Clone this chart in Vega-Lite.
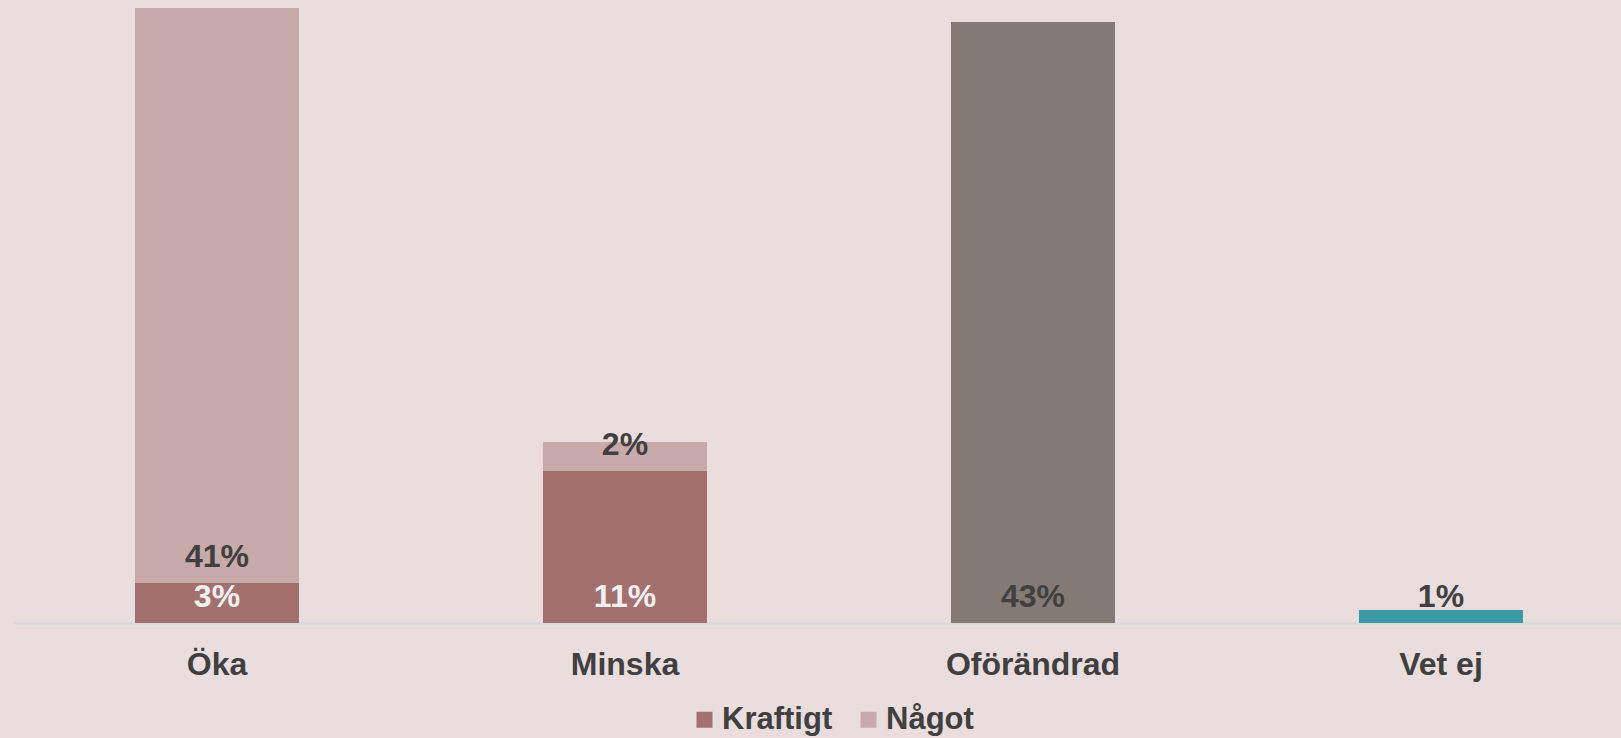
{
  "$schema": "https://vega.github.io/schema/vega-lite/v6.json",
  "width": 1608,
  "height": 623,
  "autosize": {"type": "none"},
  "padding": {"left": 13, "top": 0, "right": 0, "bottom": 115},
  "background": "#E9DDDE",
  "config": {
    "view": {"stroke": null},
    "font": "Liberation Sans"
  },
  "data": {
    "values": [
      {"kategori": "Öka", "serie": "Kraftigt", "andel": 0.0286},
      {"kategori": "Öka", "serie": "Något", "andel": 0.4107},
      {"kategori": "Minska", "serie": "Kraftigt", "andel": 0.1086},
      {"kategori": "Minska", "serie": "Något", "andel": 0.0207},
      {"kategori": "Oförändrad", "serie": "Oförändrad", "andel": 0.4293},
      {"kategori": "Vet ej", "serie": "Vet ej", "andel": 0.0093}
    ]
  },
  "transform": [
    {"stack": "andel", "groupby": ["kategori"], "sort": [{"field": "serie", "order": "ascending"}], "as": ["v0", "v1"]}
  ],
  "encoding": {
    "x": {
      "field": "kategori",
      "type": "nominal",
      "sort": ["Öka", "Minska", "Oförändrad", "Vet ej"],
      "scale": {"paddingInner": 0.598, "paddingOuter": 0.2696, "align": 0.5545},
      "axis": {
        "title": null,
        "labelAngle": 0,
        "ticks": false,
        "domainColor": "#D9D9D9",
        "domainWidth": 2,
        "labelFont": "Liberation Sans",
        "labelFontSize": 32,
        "labelFontWeight": "bold",
        "labelColor": "#404040",
        "labelPadding": 26
      }
    }
  },
  "layer": [
    {
      "mark": {"type": "bar"},
      "encoding": {
        "y": {"field": "v1", "type": "quantitative", "scale": {"domain": [0, 0.445], "nice": false, "zero": true}, "axis": null},
        "y2": {"field": "v0"},
        "color": {
          "field": "serie",
          "type": "nominal",
          "scale": {
            "domain": ["Kraftigt", "Något", "Oförändrad", "Vet ej"],
            "range": ["#A3706E", "#C9AAAA", "#837A75", "#3A9AA6"]
          },
          "legend": {
            "values": ["Kraftigt", "Något"],
            "title": null,
            "orient": "none",
            "direction": "horizontal",
            "legendX": 676,
            "legendY": 704,
            "padding": 0,
            "symbolType": "square",
            "symbolSize": 256,
            "symbolStrokeWidth": 0,
            "labelFont": "Liberation Sans",
            "labelFontSize": 31,
            "labelFontWeight": "bold",
            "labelColor": "#404040",
            "labelOffset": 2,
            "columnPadding": 20
          }
        }
      }
    },
    {
      "mark": {"type": "text", "baseline": "alphabetic", "align": "center", "dy": -16, "fontSize": 32, "fontWeight": "bold", "font": "Liberation Sans"},
      "encoding": {
        "y": {"field": "v0", "type": "quantitative"},
        "text": {"field": "andel", "type": "quantitative", "format": ".0%"},
        "color": {
          "condition": {"test": "datum.serie === 'Kraftigt'", "value": "#F2F2F2"},
          "value": "#404040"
        }
      }
    }
  ]
}
